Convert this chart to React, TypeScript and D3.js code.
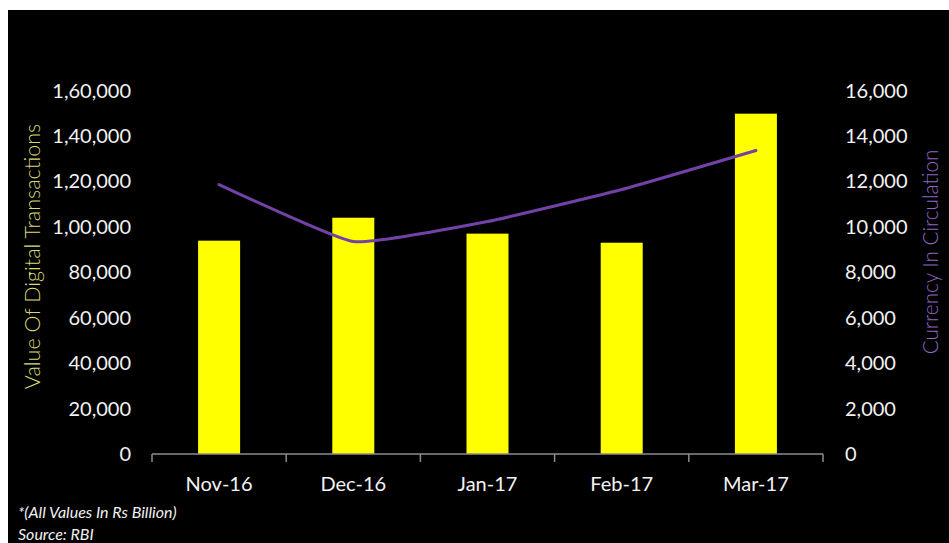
import React from "react";
import * as d3 from "d3";

const categories = ["Nov-16", "Dec-16", "Jan-17", "Feb-17", "Mar-17"];
const digitalValues = [93900, 104000, 97000, 93000, 149800];
const currencyValues = [11860, 9350, 10230, 11640, 13360];
const leftTicks = [0, 20000, 40000, 60000, 80000, 100000, 120000, 140000, 160000];
const rightTicks = [0, 2000, 4000, 6000, 8000, 10000, 12000, 14000, 16000];
const leftTitle = "Value Of Digital Transactions";
const rightTitle = "Currency In Circulation";
const footnote = "*(All Values In Rs Billion)";
const source = "Source: RBI";

const W = 949;
const H = 543;

function fmtIndian(v: number): string {
  const s = String(v);
  if (s.length <= 3) return s;
  const last3 = s.slice(-3);
  let rest = s.slice(0, -3);
  const parts: string[] = [];
  while (rest.length > 2) {
    parts.unshift(rest.slice(-2));
    rest = rest.slice(0, -2);
  }
  if (rest.length) parts.unshift(rest);
  return parts.join(",") + "," + last3;
}

export default function App() {
  const x0 = 152, x1 = 823, yB = 454, yT = 90.5;
  const x = d3.scaleBand<string>().domain(categories).range([x0, x1]).paddingInner(0.687).paddingOuter(0.3435);
  const yL = d3.scaleLinear().domain([0, 160000]).range([yB, yT]);
  const yR = d3.scaleLinear().domain([0, 16000]).range([yB, yT]);
  const line = d3
    .line<number>()
    .x((_, i) => (x(categories[i]) as number) + x.bandwidth() / 2)
    .y((d) => yR(d))
    .curve(d3.curveCardinal.tension(0.6));
  const font = "Lato, 'Open Sans', sans-serif";
  const boundaries = d3.range(categories.length + 1).map((i) => x0 + (x1 - x0) / categories.length * i);
  return (
    <svg width={W} height={H} style={{ position: "absolute", left: 0, top: 0 }} fontFamily={font}>
      <rect x={0} y={0} width={W} height={H} fill="#fff" />
      <rect x={8} y={10} width={W - 8} height={H - 10} fill="#000" />
      {leftTicks.map((t) => (
        <text key={"l" + t} x={131} y={yL(t)} dy="0.35em" textAnchor="end" fill="#f2f2f2" fontSize={20}>
          {fmtIndian(t)}
        </text>
      ))}
      {rightTicks.map((t) => (
        <text key={"r" + t} x={845} y={yR(t)} dy="0.35em" textAnchor="start" fill="#f2f2f2" fontSize={20}>
          {d3.format(",")(t)}
        </text>
      ))}
      <text
        transform={`translate(32,${(123 + 390) / 2}) rotate(-90)`}
        textAnchor="middle"
        dy="0.35em"
        fill="#d8d97a"
        fontSize={21.5}
        fontWeight={300}
      >
        {leftTitle}
      </text>
      <text
        transform={`translate(931,252) rotate(-90)`}
        textAnchor="middle"
        dy="0.35em"
        fill="#8d68c4"
        fontSize={20.7}
        fontWeight={300}
      >
        {rightTitle}
      </text>
      {categories.map((c, i) => (
        <rect
          key={c}
          x={x(c)}
          y={yL(digitalValues[i])}
          width={x.bandwidth()}
          height={yB - yL(digitalValues[i])}
          fill="#ffff00"
        />
      ))}
      <line x1={x0} x2={x1} y1={yB} y2={yB} stroke="#8c8c8c" strokeWidth={1.5} />
      {boundaries.map((b, i) => (
        <line key={"t" + i} x1={b} x2={b} y1={yB} y2={yB + 8} stroke="#8c8c8c" strokeWidth={1.5} />
      ))}
      {categories.map((c) => (
        <text
          key={"x" + c}
          x={(x(c) as number) + x.bandwidth() / 2}
          y={491}
          textAnchor="middle"
          fill="#f2f2f2"
          fontSize={20}
        >
          {c}
        </text>
      ))}
      <path d={line(currencyValues) || ""} fill="none" stroke="#7242a8" strokeWidth={3} strokeLinecap="round" />
      <text x={18} y={518} fill="#f2f2f2" fontSize={16} fontStyle="italic">
        {footnote}
      </text>
      <text x={18} y={540} fill="#f2f2f2" fontSize={16} fontStyle="italic">
        {source}
      </text>
    </svg>
  );
}
